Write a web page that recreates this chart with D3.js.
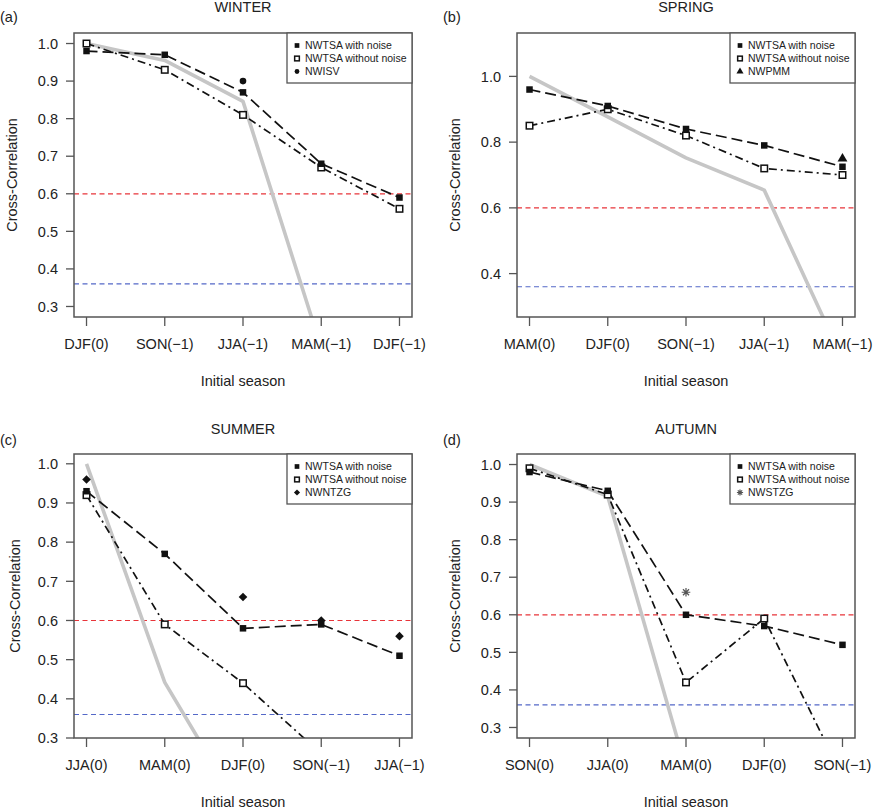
<!DOCTYPE html>
<html>
<head>
<meta charset="utf-8">
<script src="https://cdn.jsdelivr.net/npm/d3@7"></script>
<style>
  html, body { margin: 0; padding: 0; background: #ffffff; }
  svg text { font-family: "Liberation Sans", Arial, Helvetica, sans-serif; fill: #222; }
</style>
</head>
<body>
<svg id="chart" width="886" height="810"></svg>
<script>
// ---------------- DATA ----------------
const winterSeasons = ["DJF(0)", "SON(\u22121)", "JJA(\u22121)", "MAM(\u22121)", "DJF(\u22121)"];
const winterWithNoise = [0.98, 0.97, 0.87, 0.68, 0.59];
const winterWithoutNoise = [1.00, 0.93, 0.81, 0.67, 0.56];
const winterPersistence = [1.00, 0.955, 0.846, 0.19, null];
const winterModel = [null, null, 0.90, null, null];
const winterModelName = "NWISV";
const winterYDomain = [0.272, 1.028];
const winterYTicks = [0.3, 0.4, 0.5, 0.6, 0.7, 0.8, 0.9, 1.0];

const springSeasons = ["MAM(0)", "DJF(0)", "SON(\u22121)", "JJA(\u22121)", "MAM(\u22121)"];
const springWithNoise = [0.96, 0.91, 0.84, 0.79, 0.725];
const springWithoutNoise = [0.85, 0.90, 0.82, 0.72, 0.70];
const springPersistence = [1.00, 0.877, 0.752, 0.654, 0.14];
const springModel = [null, null, null, null, 0.75];
const springModelName = "NWPMM";
const springYDomain = [0.268, 1.132];
const springYTicks = [0.4, 0.6, 0.8, 1.0];

const summerSeasons = ["JJA(0)", "MAM(0)", "DJF(0)", "SON(\u22121)", "JJA(\u22121)"];
const summerWithNoise = [0.93, 0.77, 0.58, 0.59, 0.51];
const summerWithoutNoise = [0.92, 0.59, 0.44, 0.26, null];
const summerPersistence = [1.00, 0.442, 0.107, null, null];
const summerModel = [0.96, null, 0.66, 0.60, 0.56];
const summerModelName = "NWNTZG";
const summerYDomain = [0.3, 1.025];
const summerYTicks = [0.3, 0.4, 0.5, 0.6, 0.7, 0.8, 0.9, 1.0];

const autumnSeasons = ["SON(0)", "JJA(0)", "MAM(0)", "DJF(0)", "SON(\u22121)"];
const autumnWithNoise = [0.98, 0.93, 0.60, 0.57, 0.52];
const autumnWithoutNoise = [0.99, 0.92, 0.42, 0.59, 0.17];
const autumnPersistence = [1.00, 0.915, 0.19, null, null];
const autumnModel = [null, null, 0.66, null, null];
const autumnModelName = "NWSTZG";
const autumnYDomain = [0.272, 1.028];
const autumnYTicks = [0.3, 0.4, 0.5, 0.6, 0.7, 0.8, 0.9, 1.0];

const redThreshold = 0.6;
const blueThreshold = 0.36;
const legendWithNoise = "NWTSA with noise";
const legendWithoutNoise = "NWTSA without noise";
const xAxisTitle = "Initial season";
const yAxisTitle = "Cross-Correlation";

// ---------------- LAYOUT ----------------
const panels = [
  { tag: "(a)", title: "WINTER", seasons: winterSeasons, wn: winterWithNoise, won: winterWithoutNoise,
    pers: winterPersistence, model: winterModel, modelName: winterModelName, sym: "circle",
    yDomain: winterYDomain, yTicks: winterYTicks, left: 74, top: 33, ylabX: 17, titleY: 12, tagY: 22 },
  { tag: "(b)", title: "SPRING", seasons: springSeasons, wn: springWithNoise, won: springWithoutNoise,
    pers: springPersistence, model: springModel, modelName: springModelName, sym: "triangle",
    yDomain: springYDomain, yTicks: springYTicks, left: 517, top: 33, ylabX: 460, titleY: 12, tagY: 22 },
  { tag: "(c)", title: "SUMMER", seasons: summerSeasons, wn: summerWithNoise, won: summerWithoutNoise,
    pers: summerPersistence, model: summerModel, modelName: summerModelName, sym: "diamond",
    yDomain: summerYDomain, yTicks: summerYTicks, left: 74, top: 454, ylabX: 20, titleY: 434, tagY: 445 },
  { tag: "(d)", title: "AUTUMN", seasons: autumnSeasons, wn: autumnWithNoise, won: autumnWithoutNoise,
    pers: autumnPersistence, model: autumnModel, modelName: autumnModelName, sym: "asterisk",
    yDomain: autumnYDomain, yTicks: autumnYTicks, left: 517, top: 454, ylabX: 460, titleY: 434, tagY: 445 }
];
const boxW = 338, boxH = 284;
const fs = 14.5;

const svg = d3.select("#chart");

function asteriskPath(r) {
  const d = r * 0.7071;
  return `M${-r},0L${r},0M0,${-r}L0,${r}M${-d},${-d}L${d},${d}M${-d},${d}L${d},${-d}`;
}

function drawMarker(g, type, x, y, scale) {
  const s = scale || 1;
  if (type === "filledSquare") {
    const w = 6.5 * s;
    g.append("rect").attr("x", x - w / 2).attr("y", y - w / 2).attr("width", w).attr("height", w).attr("fill", "#111");
  } else if (type === "openSquare") {
    const w = 6.5 * s;
    g.append("rect").attr("x", x - w / 2).attr("y", y - w / 2).attr("width", w).attr("height", w)
      .attr("fill", "#fff").attr("stroke", "#111").attr("stroke-width", 1.5);
  } else if (type === "circle") {
    g.append("circle").attr("cx", x).attr("cy", y).attr("r", 3.3 * s).attr("fill", "#111");
  } else if (type === "triangle") {
    g.append("path").attr("transform", `translate(${x},${y})`)
      .attr("d", d3.symbol().type(d3.symbolTriangle).size(42 * s * s)()).attr("fill", "#111");
  } else if (type === "diamond") {
    const r = 4.3 * s;
    g.append("path").attr("d", `M${x},${y - r}L${x + r},${y}L${x},${y + r}L${x - r},${y}Z`).attr("fill", "#111");
  } else if (type === "asterisk") {
    g.append("path").attr("transform", `translate(${x},${y})`).attr("d", asteriskPath(4.3 * s))
      .attr("fill", "none").attr("stroke", "#555").attr("stroke-width", 1.2);
  }
}

panels.forEach((p, pi) => {
  const g = svg.append("g");
  const x = d3.scaleLinear().domain([0.84, 5.16]).range([p.left, p.left + boxW]);
  const y = d3.scaleLinear().domain(p.yDomain).range([p.top + boxH, p.top]);
  const idx = p.seasons.map((_, i) => i + 1);

  const clipId = "clip" + pi;
  svg.append("clipPath").attr("id", clipId).append("rect")
    .attr("x", p.left).attr("y", p.top).attr("width", boxW).attr("height", boxH);

  g.append("rect").attr("x", p.left).attr("y", p.top).attr("width", boxW).attr("height", boxH).attr("fill", "#fff");

  const plot = g.append("g").attr("clip-path", `url(#${clipId})`);

  // thresholds
  plot.append("line").attr("x1", p.left).attr("x2", p.left + boxW)
    .attr("y1", y(redThreshold)).attr("y2", y(redThreshold))
    .attr("stroke", "#e8343a").attr("stroke-width", 1.2).attr("stroke-dasharray", "5,3.5");
  plot.append("line").attr("x1", p.left).attr("x2", p.left + boxW)
    .attr("y1", y(blueThreshold)).attr("y2", y(blueThreshold))
    .attr("stroke", "#5468c8").attr("stroke-width", 1.2).attr("stroke-dasharray", "5,3.5");

  const line = d3.line().defined(d => d[1] !== null).x(d => x(d[0])).y(d => y(d[1]));

  // persistence (gray thick)
  plot.append("path").datum(idx.map((v, i) => [v, p.pers[i]]))
    .attr("d", line).attr("fill", "none").attr("stroke", "#c6c6c6").attr("stroke-width", 3.6)
    .attr("stroke-linejoin", "round");

  // without noise: dash-dot
  plot.append("path").datum(idx.map((v, i) => [v, p.won[i]]))
    .attr("d", line).attr("fill", "none").attr("stroke", "#111").attr("stroke-width", 1.7)
    .attr("stroke-dasharray", "8,4,2,4");

  // with noise: long dashed
  plot.append("path").datum(idx.map((v, i) => [v, p.wn[i]]))
    .attr("d", line).attr("fill", "none").attr("stroke", "#111").attr("stroke-width", 1.7)
    .attr("stroke-dasharray", "11,5");

  // markers
  p.won.forEach((v, i) => { if (v !== null && v >= p.yDomain[0]) drawMarker(plot, "openSquare", x(idx[i]), y(v)); });
  p.wn.forEach((v, i) => { if (v !== null && v >= p.yDomain[0]) drawMarker(plot, "filledSquare", x(idx[i]), y(v)); });
  p.model.forEach((v, i) => { if (v !== null) drawMarker(plot, p.sym, x(idx[i]), y(v)); });

  // box
  g.append("rect").attr("x", p.left).attr("y", p.top).attr("width", boxW).attr("height", boxH)
    .attr("fill", "none").attr("stroke", "#555").attr("stroke-width", 1.5);

  // x axis ticks
  idx.forEach((v, i) => {
    g.append("line").attr("x1", x(v)).attr("x2", x(v)).attr("y1", p.top + boxH).attr("y2", p.top + boxH + 9)
      .attr("stroke", "#555").attr("stroke-width", 1.3);
    g.append("text").attr("x", x(v)).attr("y", p.top + boxH + 32).attr("text-anchor", "middle")
      .attr("font-size", fs).text(p.seasons[i]);
  });

  // y axis ticks
  p.yTicks.forEach(t => {
    g.append("line").attr("x1", p.left - 8).attr("x2", p.left).attr("y1", y(t)).attr("y2", y(t))
      .attr("stroke", "#555").attr("stroke-width", 1.3);
    g.append("text").attr("x", p.left - 16).attr("y", y(t)).attr("dy", "0.36em").attr("text-anchor", "end")
      .attr("font-size", fs).text(d3.format(".1f")(t));
  });

  // titles
  g.append("text").attr("x", p.left + boxW / 2).attr("y", p.titleY).attr("text-anchor", "middle")
    .attr("font-size", fs).text(p.title);
  g.append("text").attr("x", p.left - 74).attr("y", p.tagY).attr("font-size", fs).text(p.tag);
  g.append("text").attr("x", p.left + boxW / 2).attr("y", p.top + boxH + 69).attr("text-anchor", "middle")
    .attr("font-size", fs).text(xAxisTitle);
  g.append("text").attr("transform", `translate(${p.ylabX},${p.top + boxH / 2}) rotate(-90)`)
    .attr("text-anchor", "middle").attr("font-size", fs).text(yAxisTitle);

  // legend
  const lw = 125, lh = 50;
  const lx = p.left + boxW - lw, ly = p.top;
  g.append("rect").attr("x", lx).attr("y", ly).attr("width", lw).attr("height", lh)
    .attr("fill", "#fff").attr("stroke", "#555").attr("stroke-width", 1.3);
  const entries = [
    ["filledSquare", legendWithNoise],
    ["openSquare", legendWithoutNoise],
    [p.sym, p.modelName]
  ];
  entries.forEach((e, k) => {
    const ey = ly + 12.5 + k * 13;
    drawMarker(g, e[0], lx + 10, ey, 0.72);
    g.append("text").attr("x", lx + 18).attr("y", ey).attr("dy", "0.36em").attr("font-size", 10.5).text(e[1]);
  });
});
</script>
</body>
</html>
